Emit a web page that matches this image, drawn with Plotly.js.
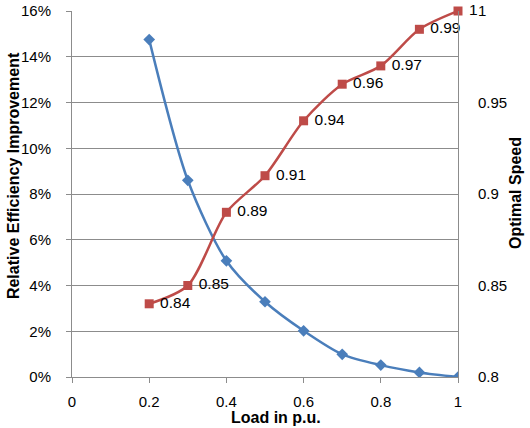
<!DOCTYPE html>
<html>
<head>
<meta charset="utf-8">
<script src="https://cdn.plot.ly/plotly-3.0.1.min.js"></script>
<style>
  html, body { margin: 0; padding: 0; background: #fff; }
  #chart { width: 530px; height: 428px; }
</style>
</head>
<body>
<div id="chart"></div>
<script>
// Load points (p.u.)
const load = [0.2, 0.3, 0.4, 0.5, 0.6, 0.7, 0.8, 0.9, 1.0];
// Relative efficiency improvement (fraction)
const efficiencyGain = [0.1475, 0.086, 0.0508, 0.0329, 0.0202, 0.0099, 0.0052, 0.002, 0.0];
// Optimal speed (p.u.)
const optimalSpeed = [0.84, 0.85, 0.89, 0.91, 0.94, 0.96, 0.97, 0.99, 1.0];

const leftTicks = [0, 0.02, 0.04, 0.06, 0.08, 0.10, 0.12, 0.14, 0.16];
const rightTicks = [0.8, 0.85, 0.9, 0.95, 1.0];
const xTicks = [0, 0.2, 0.4, 0.6, 0.8, 1.0];

const FONT = 'Liberation Sans, Arial, sans-serif';
const GRID = '#8c8c8c';

const traces = [
  {
    x: load, y: efficiencyGain, type: 'scatter', mode: 'lines+markers',
    line: { color: '#4a7ebb', width: 2.5, shape: 'spline', smoothing: 0.8 },
    marker: { symbol: 'diamond', size: 9, color: '#4a7ebb' },
    yaxis: 'y', showlegend: false
  },
  {
    x: load, y: optimalSpeed, type: 'scatter', mode: 'lines+markers+text',
    line: { color: '#be4b48', width: 2.5, shape: 'spline', smoothing: 0.8 },
    marker: { symbol: 'square', size: 9, color: '#be4b48' },
    // value labels, set a little apart from the markers
    text: optimalSpeed.map(v => ' ' + String(+v.toFixed(2))),
    textposition: 'middle right',
    textfont: { family: FONT, size: 15.5, color: '#000' },
    cliponaxis: false,
    yaxis: 'y2', showlegend: false
  }
];

const layout = {
  width: 530, height: 428,
  margin: { l: 72, r: 72, t: 11, b: 51, pad: 0 },
  paper_bgcolor: '#fff', plot_bgcolor: '#fff',
  font: { family: FONT, size: 15, color: '#000' },
  showlegend: false,
  xaxis: {
    range: [0, 1], tickvals: xTicks, ticktext: xTicks.map(v => String(v)),
    showgrid: false, zeroline: false,
    showline: true, linecolor: GRID, linewidth: 1,
    ticks: 'outside', ticklen: 5, tickcolor: GRID, ticklabelstandoff: 6
  },
  yaxis: {
    range: [0, 0.16], tickvals: leftTicks, tickformat: '.0%',
    showgrid: true, gridcolor: GRID, gridwidth: 1, zeroline: false,
    showline: true, linecolor: GRID, linewidth: 1,
    ticks: 'outside', ticklen: 5, tickcolor: GRID, ticklabelstandoff: 12
  },
  yaxis2: {
    range: [0.8, 1.0], tickvals: rightTicks, ticktext: rightTicks.map(v => String(v)),
    overlaying: 'y', side: 'right',
    showgrid: false, zeroline: false,
    showline: true, linecolor: GRID, linewidth: 1,
    ticks: '', ticklabelstandoff: 16
  },
  annotations: [
    { text: '<b>Relative Efficiency Improvement</b>', xref: 'paper', yref: 'paper',
      x: -0.1528, y: 0.549, xanchor: 'center', yanchor: 'middle',
      textangle: -90, showarrow: false,
      font: { family: FONT, size: 16, color: '#000' } },
    { text: '<b>Optimal Speed</b>', xref: 'paper', yref: 'paper',
      x: 1.1477, y: 0.5027, xanchor: 'center', yanchor: 'middle',
      textangle: -90, showarrow: false,
      font: { family: FONT, size: 16, color: '#000' } },
    { text: '<b>Load in p.u.</b>', xref: 'paper', yref: 'paper',
      x: 0.5285, y: -0.1093, xanchor: 'center', yanchor: 'middle',
      showarrow: false,
      font: { family: FONT, size: 16, color: '#000' } }
  ]
};

Plotly.newPlot('chart', traces, layout, { displayModeBar: false, staticPlot: true });
</script>
</body>
</html>
